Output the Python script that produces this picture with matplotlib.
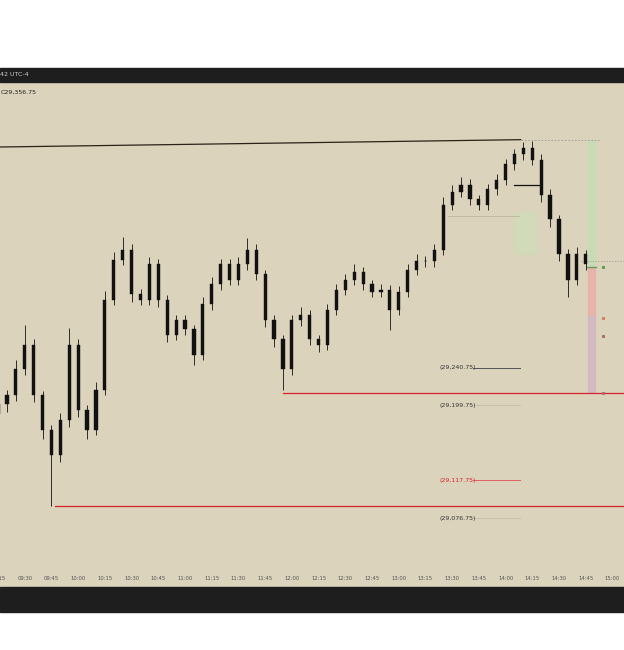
import matplotlib
matplotlib.use("Agg")
import matplotlib.pyplot as plt
from matplotlib.patches import Rectangle

# 5-minute bars starting 09:15
closes = [29201,29211,29239,29266,29211,29173,29146,29184,29266,29195,29173,29217,
          29315,29359,29370,29321,29315,29354,29315,29277,29293,29283,29255,29310,
          29332,29354,29337,29354,29370,29343,29293,29272,29239,29293,29299,29272,
          29266,29304,29326,29337,29346,29332,29324,29326,29304,29324,29348,29357,
          29357,29370,29419,29433,29441,29425,29419,29436,29446,29463,29474,29481,
          29468,29430,29403,29365,29337,29365,29354]
first_open = 29190
wick_up = [8,6,10,22,6,5,5,8,18,6,5,8,10,8,14,6,6,8,6,5,6,6,5,8,8,6,6,8,13,6,
           5,5,5,6,8,5,5,6,6,6,8,5,5,6,5,6,6,8,6,6,8,8,8,6,5,6,6,6,6,7,8,6,6,5,6,8,5]
wick_dn = [10,8,6,6,8,10,56,8,8,8,10,6,6,6,6,8,6,6,8,8,6,6,11,6,6,6,6,6,6,6,
           8,8,22,6,6,6,8,6,6,6,6,6,6,6,22,6,6,6,6,6,6,6,6,6,6,6,6,6,6,6,6,8,8,8,19,6,6]
tick_labels = ["09:15","09:30","09:45","10:00","10:15","10:30","10:45","11:00","11:15",
               "11:30","11:45","12:00","12:15","12:30","12:45","13:00","13:15","13:30",
               "13:45","14:00","14:15","14:30","14:45","15:00"]
levels_label = [29240.75, 29199.75, 29117.75, 29076.75]
red_levels = [29213, 29090]
top_level = 29490
last_price = 29351

BG = "#dcd3bc"
fig = plt.figure(figsize=(6.24, 6.5), dpi=100)
fig.patch.set_facecolor("white")
fig.add_artist(Rectangle((0, (650-82)/650), 1, 14/650, transform=fig.transFigure, color="#1e1e1e"))
fig.add_artist(Rectangle((0, (650-612)/650), 1, 25/650, transform=fig.transFigure, color="#1e1e1e"))
fig.text(0.0, (650-75)/650, "42 UTC-4", color="#cfcfcf", fontsize=4.5, va="center")

ax = fig.add_axes([0, 63/650, 1, 505/650])
ax.set_facecolor(BG)
ax.set_xlim(0.22, 70.3)
ax.set_ylim(29001.4, 29553)
for s in ax.spines.values():
    s.set_visible(False)
ax.set_xticks([]); ax.set_yticks([])

opens = [first_open] + closes[:-1]
for i, (o, c) in enumerate(zip(opens, closes)):
    hi = max(o, c) + wick_up[i]
    lo = min(o, c) - wick_dn[i]
    ax.vlines(i, lo, hi, color="#111", lw=0.6, zorder=3)
    ax.add_patch(Rectangle((i-0.18, min(o, c)), 0.36, max(abs(c-o), 1),
                           facecolor="#111", edgecolor="#111", lw=0.3, zorder=4))

ax.text(0.3, 29545, "C29,356.75", fontsize=4.5, color="#222", va="top")

ax.plot([0.22, 58.7], [top_level-8, top_level], color="#2a2418", lw=0.9)
ax.plot([58.7, 67.5], [top_level, top_level], color="#999", lw=0.6, ls=(0, (2, 2)))
ax.plot([32, 70.3], [red_levels[0]]*2, color="#d4232c", lw=0.9)
ax.plot([6.4, 70.3], [red_levels[1]]*2, color="#d4232c", lw=0.9)
cols = ["#333", "#333", "#d4232c", "#333"]
lcols = ["#555", "#c9c0a8", "#e06060", "#c9c0a8"]
for lv, c, lc in zip(levels_label, cols, lcols):
    ax.text(49.6, lv, f"({lv:,.2f})", fontsize=4.5, color=c, va="center")
    ax.plot([53.3, 58.6], [lv, lv], color=lc, lw=0.7)
ax.add_patch(Rectangle((57.9, 29365), 2.5, 46, color="#cfdcb9", alpha=0.8, zorder=1))
ax.plot([57.9, 60.7], [29441, 29441], color="#111", lw=0.9, zorder=5)
ax.plot([50.5, 58.5], [29407, 29407], color="#c2baa4", lw=0.7)
ax.add_patch(Rectangle((66.3, last_price), 0.7, top_level-last_price, color="#c8dbb4"))
ax.add_patch(Rectangle((66.3, 29297), 0.7, last_price-29297, color="#e6b4a8"))
ax.add_patch(Rectangle((66.3, red_levels[0]), 0.7, 29297-red_levels[0], color="#d2b9c2"))
ax.plot([66.2, 67.2], [last_price, last_price], color="#6a9e5a", lw=1)
ax.plot([65.5, 70.3], [29357, 29357], color="#999", lw=0.5, ls=(0, (2, 2)))
for y, col in [(last_price, "#5a9e4a"), (29295, "#d08060"), (29276, "#a07070"), (red_levels[0], "#a07070")]:
    ax.plot(67.9, y, marker="s", ms=1.2, color=col)

for k, lab in enumerate(tick_labels):
    ax.text(3*k, 29008, lab, fontsize=3.8, color="#555", ha="center", va="bottom")

fig.savefig("out.png", dpi=100, facecolor="white")
